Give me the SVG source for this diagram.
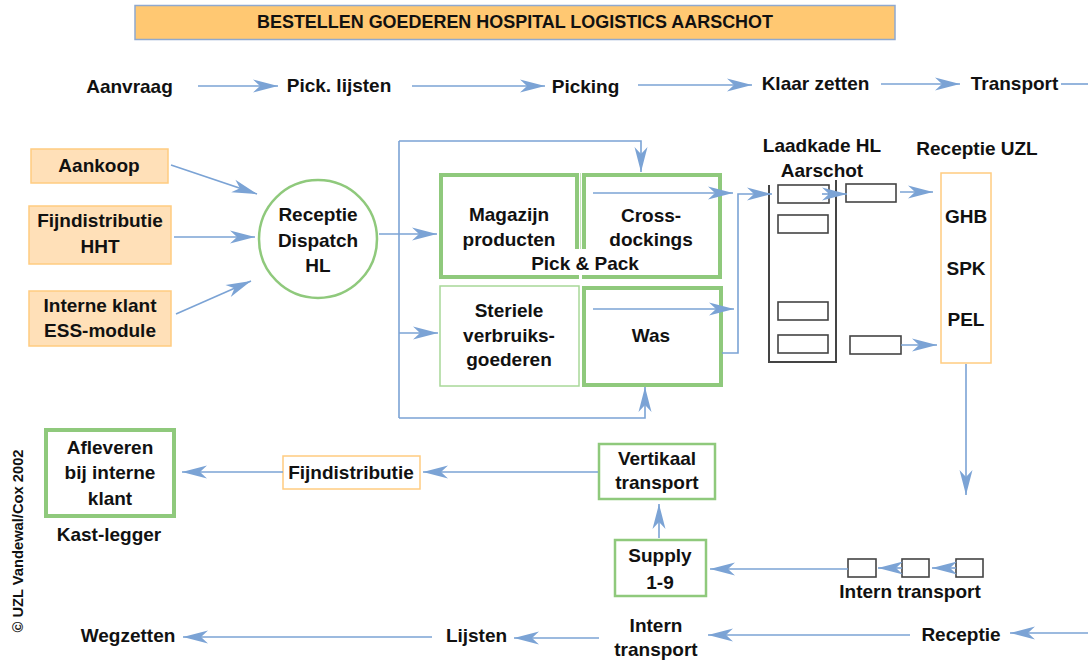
<svg xmlns="http://www.w3.org/2000/svg" width="1088" height="662" viewBox="0 0 1088 662">
<defs>
<marker id="ah" markerUnits="userSpaceOnUse" markerWidth="27" markerHeight="15" viewBox="-26 -7.5 27 15" refX="0" refY="0" orient="auto">
<path d="M0,0 L-25,-6.5 L-18,0 L-25,6.5 z" fill="#7BA3D5"/>
</marker>
<style>
text{font-family:"Liberation Sans",Arial,sans-serif;font-weight:bold;font-size:19px;fill:#111;text-anchor:middle}
.t{font-size:17.5px}
.c{font-size:14px}
.ln{fill:none;stroke:#7BA3D5;stroke-width:1.6}
.ar{fill:none;stroke:#7BA3D5;stroke-width:1.6;marker-end:url(#ah)}
.org{fill:#FFE0B8;stroke:#FFCC80;stroke-width:1.5}
.orw{fill:#fff;stroke:#FFCC80;stroke-width:1.5}
.gk{fill:#fff;stroke:#8FC97C;stroke-width:4}
.gm{fill:#fff;stroke:#8FC97C;stroke-width:2.5}
.gt{fill:#fff;stroke:#A8D898;stroke-width:1.5}
.dk{fill:#fff;stroke:#444;stroke-width:1.6}
</style>
</defs>
<rect width="1088" height="662" fill="#fff"/>

<g id="title">
<rect x="135" y="5.5" width="760" height="34" fill="#FFC872" stroke="#8FA9CF" stroke-width="1.5"/>
<text class="t" x="515" y="28" textLength="516" lengthAdjust="spacingAndGlyphs">BESTELLEN GOEDEREN HOSPITAL LOGISTICS AARSCHOT</text>
</g>

<g id="flow-top">
<text x="129.5" y="93">Aanvraag</text>
<text x="339" y="92">Pick. lijsten</text>
<text x="585.5" y="93">Picking</text>
<text x="815.5" y="90">Klaar zetten</text>
<text x="1014.5" y="90">Transport</text>
</g>

<g id="aankoop">
<rect class="org" x="31" y="149" width="137" height="34"/>
<text x="99" y="172">Aankoop</text>
</g>
<g id="fijndistributie-hht">
<rect class="org" x="29" y="206" width="142" height="58"/>
<text x="100" y="227">Fijndistributie</text>
<text x="100" y="253">HHT</text>
</g>
<g id="interne-klant">
<rect class="org" x="29" y="291" width="142" height="55"/>
<text x="100" y="312">Interne klant</text>
<text x="100" y="337">ESS-module</text>
</g>

<g id="receptie-dispatch">
<circle cx="318" cy="239" r="59" fill="#fff" stroke="#8FC97C" stroke-width="2.5"/>
<text x="318" y="221">Receptie</text>
<text x="318" y="247">Dispatch</text>
<text x="318" y="272">HL</text>
</g>

<g id="pick-pack">
<rect class="gk" x="441" y="175" width="136" height="102"/>
<rect class="gk" x="584" y="175" width="136" height="102"/>
<path d="M580.5,173 V249" stroke="#C8E6BE" stroke-width="1"/>
<rect x="573" y="249" width="18" height="26" fill="#fff"/>
<text x="509" y="221">Magazijn</text>
<text x="509" y="246">producten</text>
<text x="651" y="222">Cross-</text>
<text x="651" y="246">dockings</text>
<text x="585" y="270">Pick &amp; Pack</text>
</g>

<g id="steriele">
<rect class="gt" x="440" y="286" width="139" height="100"/>
<text x="509" y="317">Steriele</text>
<text x="509" y="342">verbruiks-</text>
<text x="509" y="366">goederen</text>
</g>

<g id="was">
<rect class="gk" x="584" y="288" width="137" height="97"/>
<text x="651" y="342">Was</text>
</g>

<g id="laadkade">
<text x="822" y="152">Laadkade HL</text>
<text x="822" y="177">Aarschot</text>
<path d="M769,185 V362 H836 V180" fill="none" stroke="#444" stroke-width="2"/>
<rect class="dk" x="778" y="185" width="51" height="18"/>
<rect class="dk" x="778" y="215" width="50" height="18"/>
<rect class="dk" x="778" y="302" width="50" height="18"/>
<rect class="dk" x="778" y="335" width="50" height="18"/>
<rect class="dk" x="846" y="184" width="50" height="18"/>
<rect class="dk" x="850" y="336" width="51" height="18"/>
</g>

<g id="receptie-uzl">
<text x="977" y="155">Receptie UZL</text>
<rect class="orw" x="941" y="173" width="50" height="190"/>
<text x="966" y="223">GHB</text>
<text x="966" y="275">SPK</text>
<text x="966" y="326">PEL</text>
</g>

<g id="afleveren">
<rect class="gk" x="46" y="430" width="128" height="86"/>
<text x="110" y="454">Afleveren</text>
<text x="110" y="479">bij interne</text>
<text x="110" y="505">klant</text>
<text x="109" y="541">Kast-legger</text>
</g>

<g id="fijndistributie">
<rect class="orw" x="283" y="456" width="137" height="33"/>
<text x="351" y="479">Fijndistributie</text>
</g>

<g id="vertikaal">
<rect class="gm" x="599" y="444" width="116" height="55"/>
<text x="657" y="465">Vertikaal</text>
<text x="657" y="489">transport</text>
</g>

<g id="supply">
<rect class="gm" x="615" y="540" width="91" height="56"/>
<text x="660" y="562">Supply</text>
<text x="660" y="589">1-9</text>
</g>

<g id="intern-transport-top">
<rect class="dk" x="848" y="559" width="28" height="18"/>
<rect class="dk" x="902" y="559" width="27" height="18"/>
<rect class="dk" x="956" y="559" width="27" height="18"/>
<text x="910" y="598">Intern transport</text>
</g>

<g id="flow-bottom">
<text x="961" y="641">Receptie</text>
<text x="656" y="632">Intern</text>
<text x="656" y="656">transport</text>
<text x="476.5" y="642">Lijsten</text>
<text x="128" y="642">Wegzetten</text>
</g>

<g id="copyright">
<text class="c" transform="translate(23,541) rotate(-90)" x="0" y="0" textLength="183" lengthAdjust="spacingAndGlyphs">© UZL Vandewal/Cox 2002</text>
</g>

<g id="connectors">
<path class="ar" d="M198,86 H278"/>
<path class="ar" d="M412,86 H545"/>
<path class="ar" d="M638,85 H752"/>
<path class="ar" d="M881,84 H960"/>
<path class="ln" d="M1061,84 H1088"/>
<path class="ar" d="M171,165 L257,194"/>
<path class="ar" d="M174,237 H255"/>
<path class="ar" d="M176,314 L251,281"/>
<path class="ar" d="M379,234 H437"/>
<path class="ln" d="M399,141 V418"/>
<path class="ar" d="M399,141 H641 V172"/>
<path class="ar" d="M399,333 H438"/>
<path class="ar" d="M399,418 H645 V387"/>
<path class="ar" d="M593,193 H733"/>
<path class="ar" d="M593,309 H734"/>
<path class="ar" d="M722,353 H738 V194 H772"/>
<path class="ar" d="M822,194 H847"/>
<path class="ar" d="M900,192 H933"/>
<path class="ar" d="M901,345 H937"/>
<path class="ar" d="M966,364 V495"/>
<path class="ar" d="M598,472 H423"/>
<path class="ar" d="M283,472 H182"/>
<path class="ar" d="M659,538 V504"/>
<path class="ar" d="M848,569 H710"/>
<path class="ar" d="M902,568 H878"/>
<path class="ar" d="M956,568 H932"/>
<path class="ar" d="M1088,633 H1010"/>
<path class="ar" d="M910,635 H708"/>
<path class="ar" d="M599,638 H514"/>
<path class="ar" d="M432,637 H183"/>
</g>
</svg>
